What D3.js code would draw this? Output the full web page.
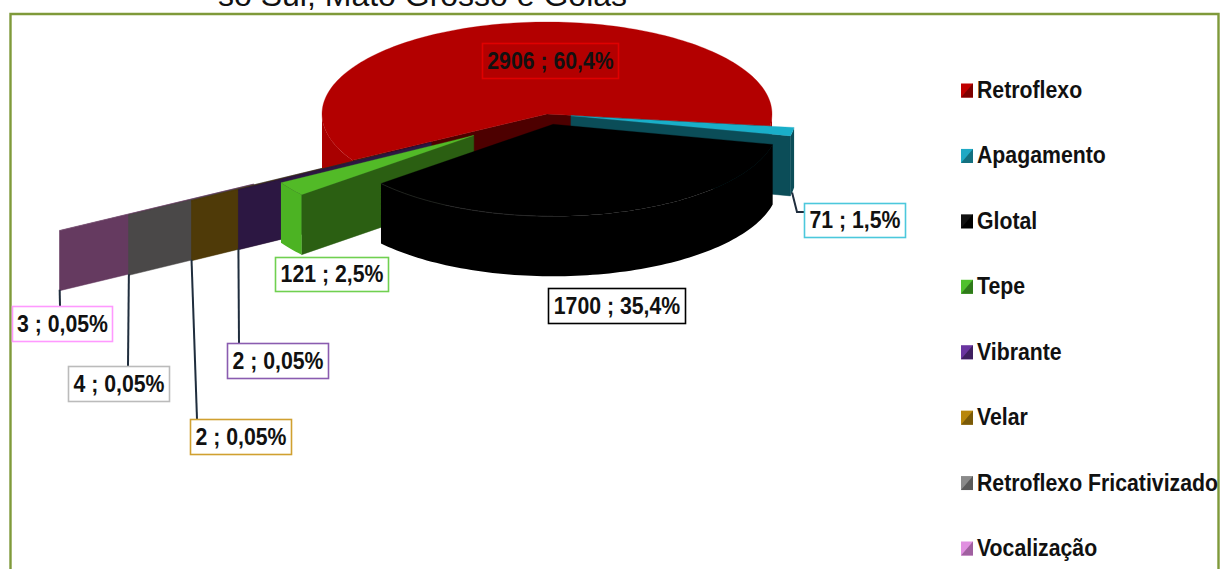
<!DOCTYPE html>
<html><head><meta charset="utf-8">
<script src="https://cdn.jsdelivr.net/npm/d3@7"></script>
<style>html,body{margin:0;padding:0;background:#fff;overflow:hidden}svg{display:block}
text{font-family:"Liberation Sans",Arial,sans-serif}</style></head>
<body><svg id="c" width="1222" height="569"></svg>
<script>
const categories=["Retroflexo","Apagamento","Glotal","Tepe","Vibrante","Velar","Retroflexo Fricativizado","Vocalização"];
const values=[2906,71,1700,121,2,2,4,3];
const percentLabels=["60,4%","1,5%","35,4%","2,5%","0,05%","0,05%","0,05%","0,05%"];
const titleText="so Sul, Mato Grosso e Goiás";

// styling / layout, kept apart from the data
const explode=[0,0.108,0.115,0.40,0.60,0.84,1.16,1.51];
const topColor=["#b30000","#19afc9","#000000","#52ba27","#2c1742","#4f3a08","#4a4848","#653a60"];
const sideColor=["#4d0000","#0b4d58","#000000","#2b5f12","#2c1742","#4f3a08","#4a4848","#653a60"];
const rimColor=["#a80000","#0b4d58","#000000","#4cb323","#2c1742","#4f3a08","#4a4848","#653a60"];
const legendColor=["#c00000","#1fa9c4","#111111","#4fc02c","#6a35a0","#b8860b","#8a8a8a","#e090e0"];
const legendShade=["#7d0000","#14707f","#000000","#2f7a1a","#3f1f60","#7a5a08","#5a5a5a","#a060a0"];
const borderColor=["#e00000","#4cc8dc","#000000","#70d050","#8a5cb0","#d0a030","#bbbbbb","#ff99ff"];
const labelBoxes=[[482,43,136,35],[804,203,101,34],[548,288,137,35],[275,257,113,34],[227,343,101,35],[190,419,101,35],[68,366,101,35],[12,306,100,35]];
const leaderEnds=[null,[[797,212],[804,212]],null,null,[[239,343]],[[197,419]],[[128,366]],[[60,306]]];
const paintOrder=[0,7,6,5,4,3,1,2];

const cx=547,cy=114,rx=225,ry=92,depth=60;
const svg=d3.select("#c");

// frame + clipped heading
svg.append("text").attr("x",218).attr("y",6).attr("font-size",32).attr("fill","#111").text(titleText);
svg.append("path").attr("d","M10.5,569V14H1218.5V569").attr("fill","none").attr("stroke","#7f9a3a").attr("stroke-width",2.4);

const arcs=d3.pie().sort(null).value(d=>d).startAngle(239.8*Math.PI/180).endAngle((239.8+360)*Math.PI/180)(values);
const pt=(t,c,k=1,dz=0)=>[c[0]+rx*k*Math.cos(t),c[1]+ry*k*Math.sin(t)+dz];
const line=d3.line();
const geom=arcs.map((a,i)=>{
  const t0=a.startAngle-Math.PI/2,t1=a.endAngle-Math.PI/2,m=(t0+t1)/2;
  return {i,t0,t1,c:[cx+rx*explode[i]*Math.cos(m),cy+ry*explode[i]*Math.sin(m)]};
});
function arcPts(t0,t1,c,dz){const n=Math.max(2,Math.ceil((t1-t0)*40));
  return d3.range(n+1).map(j=>pt(t0+(t1-t0)*j/n,c,1,dz));}

paintOrder.forEach(i=>{
  const g=geom[i],G=svg.append("g"),c=g.c;
  const radial=t=>{const a=[c[0],c[1]],b=pt(t,c);
    G.append("path").attr("d",line([a,b,[b[0],b[1]+depth],[a[0],a[1]+depth]])+"Z")
      .attr("fill",sideColor[i]).attr("stroke",sideColor[i]).attr("stroke-width",.5);};
  if(Math.cos(g.t1)>0) radial(g.t1);
  if(Math.cos(g.t0)<0) radial(g.t0);
  // outer rim: front-facing part only (sin t > 0)
  const two=Math.PI*2;
  for(let k=-1;k<=1;k++){
    const lo=Math.max(g.t0,k*two),hi=Math.min(g.t1,k*two+Math.PI);
    if(hi>lo){
      const top=arcPts(lo,hi,c,0),bot=arcPts(lo,hi,c,depth).reverse();
      G.append("path").attr("d",line(top.concat(bot))+"Z").attr("fill",rimColor[i]);
    }
  }
  const surf=[[c[0],c[1]],...arcPts(g.t0,g.t1,c,0)];
  G.append("path").attr("d",line(surf)+"Z").attr("fill",topColor[i]).attr("stroke",topColor[i]).attr("stroke-width",.3);
  if(i===2){ // faint highlight along the near edge of the black slice
    const quarter=Math.PI/2+(g.t1>Math.PI*2?Math.PI*2:0);
    G.append("path").attr("d",line(arcPts(quarter,g.t1,c,0))).attr("fill","none").attr("stroke","#262626").attr("stroke-width",.8);
  }
});

// leader lines start on the computed corners of each wall
leaderEnds.forEach((e,i)=>{
  if(!e)return;
  const g=geom[i];
  const s=i===1?[pt(g.t0,g.c)[0]-2,pt(g.t0,g.c)[1]+depth+5]:(()=>{const p=pt(g.t0,g.c);return [p[0],p[1]+depth-1];})();
  svg.append("path").attr("d",line([s,...e])).attr("fill","none").attr("stroke","#1f2d3d").attr("stroke-width",2);
});

// data labels
const sx=0.925;
values.forEach((v,i)=>{
  const b=labelBoxes[i];
  svg.append("rect").attr("x",b[0]+.5).attr("y",b[1]+.5).attr("width",b[2]).attr("height",b[3])
    .attr("fill",i===0?"none":"#fff").attr("stroke",borderColor[i]).attr("stroke-width",1.6);
  svg.append("text").attr("transform",`translate(${b[0]+b[2]/2+.5},${b[1]+b[3]/2+8}) scale(${sx},1)`)
    .attr("text-anchor","middle").attr("font-size",23).attr("font-weight","bold").attr("fill","#111")
    .text(`${v} ; ${percentLabels[i]}`);
});

// legend
const ly=d3.scalePoint().domain(categories).range([90.5,548.5]);
categories.forEach((n,i)=>{
  const y=ly(n),x0=961,x1=973,y0=y-7,y1=y+7;
  svg.append("rect").attr("x",x0).attr("y",y0).attr("width",x1-x0).attr("height",y1-y0).attr("fill",legendColor[i]);
  svg.append("path").attr("d",line([[x1,y0],[x1,y1],[x0,y1]])+"Z").attr("fill",legendShade[i]);
  svg.append("text").attr("transform",`translate(977,${y+7.5}) scale(${sx},1)`)
    .attr("font-size",23).attr("font-weight","bold").attr("fill","#111").text(n);
});
</script></body></html>
